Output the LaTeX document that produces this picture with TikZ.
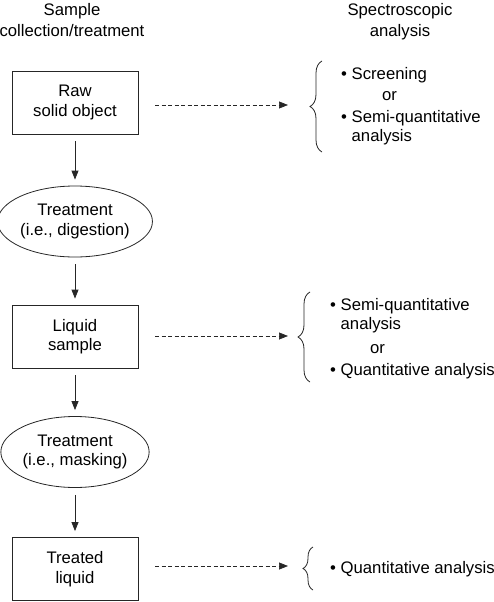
\documentclass[tikz,border=0pt]{standalone}
\usepackage{fontspec}
\setmainfont{Liberation Sans}
\usetikzlibrary{arrows.meta,shapes.geometric,decorations.pathreplacing}
\tikzset{
  txt/.style={font=\fontsize{16.7}{19.5}\selectfont, inner sep=0pt},
  stepbox/.style={draw=black!85, line width=0.8pt, minimum width=126pt, minimum height=63pt, align=center, font=\fontsize{16.7}{19.5}\selectfont, inner sep=0pt},
  treat/.style={draw=black!85, line width=0.8pt, ellipse, minimum width=136pt, minimum height=71pt, align=center, font=\fontsize{16.7}{19.5}\selectfont, inner sep=0pt},
  flow/.style={draw=black!85, line width=0.8pt, -{Triangle[length=9pt,width=7pt]}, shorten <=7pt, shorten >=6pt},
  dflow/.style={draw=black!85, line width=0.7pt, dash pattern=on 4pt off 2.5pt, -{Triangle[length=9pt,width=7pt]}},
  br/.style={draw=black!85, line width=0.8pt, decorate, decoration={brace, amplitude=12pt}},
  lst/.style={txt, anchor=base west}
}
\begin{document}
\begin{tikzpicture}[x=1pt,y=-1pt]
\useasboundingbox (0,0) rectangle (494,602);
% headers
\node[txt, anchor=base] (h1a) at (72,16) {Sample};
\node[txt, anchor=base] (h1b) at (72,36.5) {collection/treatment};
\node[txt, anchor=base] (h2a) at (400,16) {Spectroscopic};
\node[txt, anchor=base] (h2b) at (400,36.5) {analysis};
% left column
\node[stepbox] (b1) at (75,102.5) {Raw\\solid object};
\node[treat] (e1) at (75,221.5) {Treatment\\(i.e., digestion)};
\node[stepbox] (b2) at (75,336.5) {Liquid\\sample};
\node[treat] (e2) at (75,452) {Treatment\\(i.e., masking)};
\node[stepbox] (b3) at (75,569) {Treated\\liquid};
\draw[flow] (b1) -- (e1);
\draw[flow] (e1) -- (b2);
\draw[flow] (b2) -- (e2);
\draw[flow] (e2) -- (b3);
% dashed arrows
\coordinate (s1) at (155,105); \coordinate (t1) at (288,105);
\coordinate (s2) at (155,336); \coordinate (t2) at (288,336);
\coordinate (s3) at (155,566); \coordinate (t3) at (288,566);
\draw[dflow] (s1) -- (t1);
\draw[dflow] (s2) -- (t2);
\draw[dflow] (s3) -- (t3);
% braces
\coordinate (br1a) at (322,152); \coordinate (br1b) at (322,61);
\coordinate (br2a) at (310,382); \coordinate (br2b) at (310,292);
\coordinate (br3a) at (313,590); \coordinate (br3b) at (313,547);
\draw[br] (br1a) -- (br1b);
\draw[br] (br2a) -- (br2b);
\draw[br, decoration={amplitude=10pt}] (br3a) -- (br3b);
% lists
\node[lst] (l1a) at (341,79) {• Screening};
\node[lst] (l1b) at (382,100.5) {or};
\node[lst] (l1c) at (341,122) {• Semi-quantitative};
\node[lst] (l1d) at (341,141) {\phantom{• }analysis};
\node[lst] (l2a) at (330,310.5) {• Semi-quantitative};
\node[lst] (l2b) at (330,329) {\phantom{• }analysis};
\node[lst] (l2c) at (370,353) {or};
\node[lst] (l2d) at (330,375) {• Quantitative analysis};
\node[lst] (l3a) at (330,573) {• Quantitative analysis};
\end{tikzpicture}
\end{document}
